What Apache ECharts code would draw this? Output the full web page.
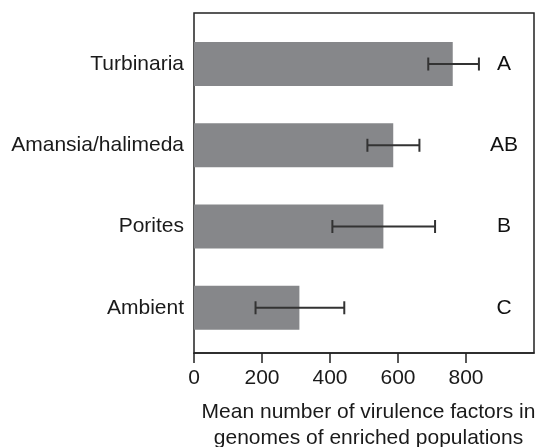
<!DOCTYPE html>
<html>
<head>
<meta charset="utf-8">
<script src="https://cdn.jsdelivr.net/npm/echarts@6/dist/echarts.min.js"></script>
<style>
html,body{margin:0;padding:0;background:#fff;}
#c{width:542px;height:447px;}
</style>
</head>
<body>
<div id="c"></div>
<script>
const categories = ["Turbinaria", "Amansia/halimeda", "Porites", "Ambient"];
const means = [761, 586, 557, 310];
const errLow = [689, 510, 407, 181];
const errHigh = [838, 663, 709, 442];
const letters = ["A", "AB", "B", "C"];
const xTicks = [0, 200, 400, 600, 800, 1000];

const FONT = "Liberation Sans, Arial, Helvetica, sans-serif";
const chart = echarts.init(document.getElementById('c'), null, {renderer: 'canvas'});

const errData = categories.map((c, i) => [i, errLow[i], errHigh[i]]);
const letterData = categories.map((c, i) => ({value: [912, i], label: {formatter: letters[i]}}));

const option = {
  animation: false,
  backgroundColor: '#ffffff',
  grid: [
    {left: 194, right: 8, top: 13, bottom: 94, show: true, borderColor: '#222', borderWidth: 1.5,
     backgroundColor: 'transparent', outerBoundsMode: 'none', containLabel: false},
    {left: 194, width: 340, top: 23.4, height: 325, outerBoundsMode: 'none', containLabel: false}
  ],
  xAxis: [
    {
      gridIndex: 0, type: 'value', min: xTicks[0], max: xTicks[xTicks.length - 1], interval: 200,
      axisLine: {show: true, lineStyle: {color: '#222', width: 1.5}},
      axisTick: {show: true, length: 10, lineStyle: {color: '#222', width: 1.5}},
      splitLine: {show: false},
      axisLabel: {color: '#1a1a1a', fontSize: 21, fontFamily: FONT, margin: 15, showMaxLabel: false},
      name: 'Mean number of virulence factors in\ngenomes of enriched populations',
      nameLocation: 'middle', nameGap: 46,
      nameTextStyle: {color: '#1a1a1a', fontSize: 21, fontFamily: FONT, lineHeight: 26, padding: [0, 0, 0, 9]}
    },
    {gridIndex: 1, type: 'value', min: 0, max: 1000, show: false}
  ],
  yAxis: [
    {gridIndex: 0, type: 'value', show: false},
    {
      gridIndex: 1, type: 'category', data: categories, inverse: true,
      axisLine: {show: false}, axisTick: {show: false},
      axisLabel: {color: '#1a1a1a', fontSize: 21, fontFamily: FONT, margin: 10}
    }
  ],
  series: [
    {
      type: 'bar', xAxisIndex: 1, yAxisIndex: 1, data: means, barWidth: 44,
      itemStyle: {color: '#86878a'}
    },
    {
      type: 'custom', xAxisIndex: 1, yAxisIndex: 1, data: errData,
      renderItem: function (params, api) {
        const idx = api.value(0);
        const p1 = api.coord([api.value(1), idx]);
        const p2 = api.coord([api.value(2), idx]);
        const h = 6.5;
        const style = {stroke: '#333', lineWidth: 2};
        return {
          type: 'group',
          children: [
            {type: 'line', shape: {x1: p1[0], y1: p1[1], x2: p2[0], y2: p2[1]}, style: style},
            {type: 'line', shape: {x1: p1[0], y1: p1[1] - h, x2: p1[0], y2: p1[1] + h}, style: style},
            {type: 'line', shape: {x1: p2[0], y1: p2[1] - h, x2: p2[0], y2: p2[1] + h}, style: style}
          ]
        };
      },
      z: 5
    },
    {
      type: 'scatter', xAxisIndex: 1, yAxisIndex: 1, data: letterData, symbolSize: 0,
      itemStyle: {opacity: 1, color: '#111'},
      label: {show: true, position: 'inside', color: '#111', opacity: 1, fontSize: 21, fontFamily: FONT}
    }
  ]
};
chart.setOption(option);
</script>
</body>
</html>
